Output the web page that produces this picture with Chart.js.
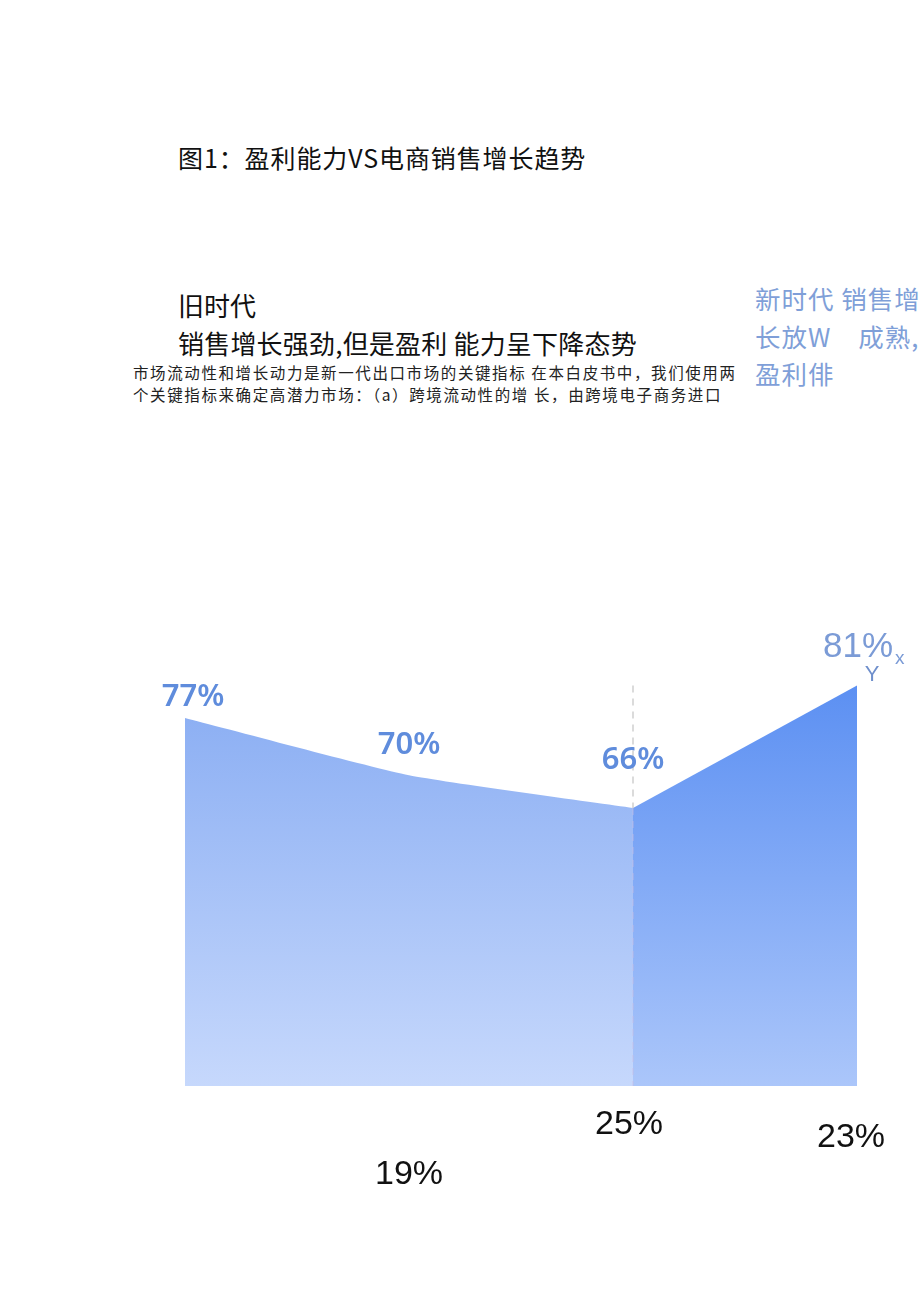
<!DOCTYPE html>
<html>
<head>
<meta charset="utf-8">
<script src="https://cdn.jsdelivr.net/npm/chart.js@4"></script>
<style>
    body { margin: 0; width: 920px; height: 1301px; background: #fff; position: relative; overflow: hidden; }
    .txt { position: absolute; white-space: nowrap; font-family: "Noto Sans CJK SC", "Noto Sans", sans-serif; }
    #title { left: 178px; top: 139px; font-size: 25px; line-height: 36px; color: #111; letter-spacing: 0.9px; }
    #oldEra { left: 178px; top: 286px; font-size: 26px; line-height: 38px; color: #111; }
    #oldSub { left: 178px; top: 324px; font-size: 26px; line-height: 38px; color: #111; letter-spacing: 0.2px; }
    #para { left: 133px; top: 361px; font-size: 15.5px; line-height: 22px; color: #222; letter-spacing: 1.6px; }
    #newEra { left: 755px; top: 279px; font-size: 25.5px; line-height: 37.5px; color: #7f9fd8; letter-spacing: 1px; }
    #chartBox { position: absolute; left: 0; top: 600px; width: 920px; height: 640px; }
</style>
</head>
<body>
<div class="txt" id="title">图1：盈利能力VS电商销售增长趋势</div>
<div class="txt" id="oldEra">旧时代</div>
<div class="txt" id="oldSub">销售增长强劲,但是盈利 能力呈下降态势</div>
<div class="txt" id="para">市场流动性和增长动力是新一代出口市场的关键指标 在本白皮书中，我们使用两<br>个关键指标来确定高潜力市场：（a）跨境流动性的增 长，由跨境电子商务进口</div>
<div class="txt" id="newEra">新时代 销售增<br>长放W&nbsp;&nbsp;&nbsp;&nbsp;成熟,<br>盈利俳</div>
<div id="chartBox"><canvas id="chart"></canvas></div>
<script>
// --- DATA ---
const categories = ['P1', 'P2', 'P3', 'P4'];
const oldEraGrowth = [77, 70, 66, null];
const newEraGrowth = [null, null, 66, 81];
const growthValues = [77, 70, 66, 81];
const growthLabels = ['77%', '70%', '66%', '81%'];
const profitLabels = [null, '19%', '25%', '23%'];
const dividerIndex = 2;

// --- GRADIENTS ---
function vGradient(chart, top, bottom) {
    const area = chart.chartArea;
    if (!area) return top;
    const g = chart.ctx.createLinearGradient(0, area.top, 0, area.bottom);
    g.addColorStop(0, top);
    g.addColorStop(1, bottom);
    return g;
}

// --- LABELS + DIVIDER ---
const labelPlugin = {
    id: 'labelPlugin',
    afterDatasetsDraw(chart) {
        const ctx = chart.ctx;
        const xs = chart.scales.x;
        const ys = chart.scales.y;

        // dashed divider between old and new era
        const dx = xs.getPixelForValue(dividerIndex);
        ctx.save();
        ctx.setLineDash([7, 6]);
        ctx.lineWidth = 1.2;
        ctx.strokeStyle = '#c4c4c4';
        ctx.beginPath();
        ctx.moveTo(dx, ys.getPixelForValue(81));
        ctx.lineTo(dx, ys.getPixelForValue(66));
        ctx.stroke();
        ctx.strokeStyle = 'rgba(200, 190, 225, 0.55)';
        ctx.beginPath();
        ctx.moveTo(dx, ys.getPixelForValue(66));
        ctx.lineTo(dx, chart.chartArea.bottom);
        ctx.stroke();
        ctx.restore();

        const topOffsets = [-21, -30, -48, -38];
        const xShift = [8, 0, 0, 0];
        ctx.save();
        ctx.textBaseline = 'middle';
        growthLabels.forEach((lbl, i) => {
            const px = xs.getPixelForValue(i) + xShift[i];
            const py = ys.getPixelForValue(growthValues[i]) + topOffsets[i];
            if (i < 3) {
                ctx.textAlign = 'center';
                ctx.font = '600 31px "Noto Sans", sans-serif';
                ctx.fillStyle = '#5f8cdc';
                ctx.fillText(lbl, px, py);
            } else {
                ctx.textAlign = 'right';
                ctx.font = '35px "Liberation Sans", sans-serif';
                ctx.fillStyle = '#7b9bd6';
                ctx.fillText(lbl, px + 36, py);
                ctx.textAlign = 'left';
                ctx.font = '19px "Liberation Sans", sans-serif';
                ctx.fillText('x', px + 38, py + 11);
                ctx.textAlign = 'center';
                ctx.font = '22px "Liberation Sans", sans-serif';
                ctx.fillStyle = '#6f8fcc';
                ctx.fillText('Y', px + 15, py + 28);
            }
        });
        const bottomOffsets = [0, 89, 39, 52];
        const bx = [0, 0, -4, -6];
        ctx.textAlign = 'center';
        ctx.font = '34px "Liberation Sans", sans-serif';
        ctx.fillStyle = '#111';
        profitLabels.forEach((lbl, i) => {
            if (!lbl) return;
            ctx.fillText(lbl, xs.getPixelForValue(i) + bx[i], chart.chartArea.bottom + bottomOffsets[i]);
        });
        ctx.restore();
    }
};

const ctx = document.getElementById('chart').getContext('2d');
new Chart(ctx, {
    type: 'line',
    data: {
        labels: categories,
        datasets: [{
            data: oldEraGrowth,
            fill: 'start',
            tension: 0.15,
            borderWidth: 0,
            pointRadius: 0,
            backgroundColor: c => vGradient(c.chart, '#7ea5f1', '#c6d8fc')
        }, {
            data: newEraGrowth,
            fill: 'start',
            tension: 0,
            borderWidth: 0,
            pointRadius: 0,
            backgroundColor: c => vGradient(c.chart, '#4f87f1', '#abc6fa')
        }]
    },
    options: {
        responsive: true,
        maintainAspectRatio: false,
        animation: false,
        layout: { padding: { left: 185, right: 63, top: 20, bottom: 154 } },
        plugins: { legend: { display: false }, tooltip: { enabled: false } },
        scales: {
            x: { display: false, offset: false },
            y: { display: false, min: 32, max: 89 }
        }
    },
    plugins: [labelPlugin]
});
</script>
</body>
</html>
